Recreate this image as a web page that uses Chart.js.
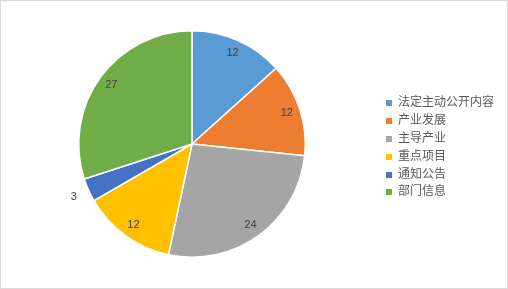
<!DOCTYPE html>
<html>
<head>
<meta charset="utf-8">
<script src="https://cdn.jsdelivr.net/npm/chart.js@4"></script>
<style>
    html, body { margin: 0; padding: 0; background: #fff; }
    #wrap {
        position: relative;
        width: 508px;
        height: 289px;
        box-sizing: border-box;
        border: 1px solid #d9d9d9;
        background: #fff;
    }
    #chart { position: absolute; left: -1px; top: -1px; }
    #legend {
        position: absolute;
        left: 385px;
        top: 91px;
        font-family: "Noto Sans CJK SC", sans-serif;
        font-size: 12px;
        color: #595959;
    }
    #legend .row { height: 17.9px; line-height: 17.9px; white-space: nowrap; }
    #legend .box {
        display: inline-block;
        width: 6px;
        height: 6px;
        margin-right: 6px;
        vertical-align: 0px;
    }
</style>
</head>
<body>
<div id="wrap">
    <canvas id="chart" width="508" height="289"></canvas>
    <div id="legend"></div>
</div>
<script>
// Chart data
const categories = ['法定主动公开内容', '产业发展', '主导产业', '重点项目', '通知公告', '部门信息'];
const values = [12, 12, 24, 12, 3, 27];
const colors = ['#5B9BD5', '#ED7D31', '#A5A5A5', '#FFC000', '#4472C4', '#70AD47'];

// Draw value labels inside each slice, small slices get pushed outside
const sliceLabels = {
    id: 'sliceLabels',
    afterDatasetsDraw(chart) {
        const ctx = chart.ctx;
        const meta = chart.getDatasetMeta(0);
        ctx.save();
        ctx.font = '11px "Liberation Sans", Arial, sans-serif';
        ctx.fillStyle = '#404040';
        ctx.textAlign = 'center';
        ctx.textBaseline = 'middle';
        meta.data.forEach((arc, i) => {
            const mid = (arc.startAngle + arc.endAngle) / 2;
            const span = arc.endAngle - arc.startAngle;
            const r = span < 0.35 ? arc.outerRadius + 16 : arc.outerRadius * 0.88;
            ctx.fillText(String(values[i]), arc.x + Math.cos(mid) * r, arc.y + Math.sin(mid) * r);
        });
        ctx.restore();
    }
};

const ctx = document.getElementById('chart');
window.pieChart = new Chart(ctx, {
    type: 'pie',
    data: {
        labels: categories,
        datasets: [{
            data: values,
            backgroundColor: colors,
            borderColor: '#ffffff',
            borderWidth: 1.5
        }]
    },
    options: {
        responsive: false,
        animation: false,
        layout: {
            padding: { left: 78, right: 202, top: 30, bottom: 31 }
        },
        plugins: {
            legend: { display: false },
            tooltip: { enabled: false }
        }
    },
    plugins: [sliceLabels]
});

// HTML legend
const legend = document.getElementById('legend');
categories.forEach((name, i) => {
    const row = document.createElement('div');
    row.className = 'row';
    const box = document.createElement('span');
    box.className = 'box';
    box.style.background = colors[i];
    row.appendChild(box);
    row.appendChild(document.createTextNode(name));
    legend.appendChild(row);
});
</script>
</body>
</html>
